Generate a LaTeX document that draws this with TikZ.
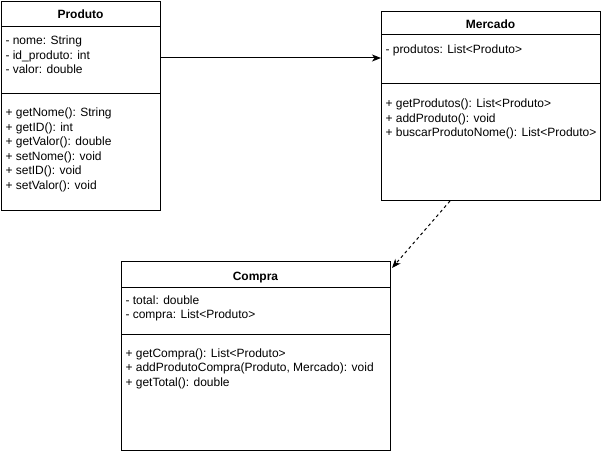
\documentclass[tikz,border=0pt]{standalone}
\usepackage{fontspec}
\setmainfont{Liberation Sans}
\usetikzlibrary{arrows.meta,calc}
\begin{document}
\begin{tikzpicture}[x=1pt,y=-1pt,line width=1pt,
  umlbox/.style={draw=black,fill=white,rectangle,inner sep=0pt,anchor=north west},
  txt/.style={anchor=base west,inner sep=0pt,font=\fontsize{12}{14}\selectfont},
  ttl/.style={anchor=base,inner sep=0pt,font=\fontsize{12}{14}\selectfont\bfseries},
  arr/.style={-{Stealth[length=9pt,width=7pt,inset=2.5pt]}}]
\useasboundingbox[fill=white] (0,0) rectangle (601,454);

% Produto
\node[umlbox,minimum width=159,minimum height=209] (produto) at (1,1) {};
\draw (produto.west |- 0,27) -- (produto.east |- 0,27);
\draw (produto.west |- 0,94) -- (produto.east |- 0,94);
\node[ttl] (pt) at (80.5,19) {Produto};
\node[txt] (p1) at (5,45) {- nome: String};
\node[txt] (p2) at (5,59.5) {- id\_produto: int};
\node[txt] (p3) at (5,74) {- valor: double};
\node[txt] (p4) at (5,117) {+ getNome(): String};
\node[txt] (p5) at (5,131.5) {+ getID(): int};
\node[txt] (p6) at (5,146) {+ getValor(): double};
\node[txt] (p7) at (5,160.5) {+ setNome(): void};
\node[txt] (p8) at (5,175) {+ setID(): void};
\node[txt] (p9) at (5,189.5) {+ setValor(): void};

% Mercado
\node[umlbox,minimum width=219,minimum height=189] (mercado) at (381,11) {};
\draw (mercado.west |- 0,35) -- (mercado.east |- 0,35);
\draw (mercado.west |- 0,83.5) -- (mercado.east |- 0,83.5);
\node[ttl] (mt) at (490.5,29) {Mercado};
\node[txt] (m1) at (385,54) {- produtos: List<Produto>};
\node[txt] (m2) at (385,108) {+ getProdutos(): List<Produto>};
\node[txt] (m3) at (385,122.5) {+ addProduto(): void};
\node[txt] (m4) at (385,137) {+ buscarProdutoNome(): List<Produto>};

% Compra
\node[umlbox,minimum width=269,minimum height=189] (compra) at (121,261) {};
\draw (compra.west |- 0,287) -- (compra.east |- 0,287);
\draw (compra.west |- 0,334) -- (compra.east |- 0,334);
\node[ttl] (ct) at (255.5,280) {Compra};
\node[txt] (c1) at (125,304) {- total: double};
\node[txt] (c2) at (125,318.5) {- compra: List<Produto>};
\node[txt] (c3) at (125,357) {+ getCompra(): List<Produto>};
\node[txt] (c4) at (125,371.5) {+ addProdutoCompra(Produto, Mercado): void};
\node[txt] (c5) at (125,386) {+ getTotal(): double};

% connectors
\coordinate (lvl) at (0,58);
\draw[arr] (produto.east |- lvl) -- (mercado.west |- lvl);
\draw[arr,dash pattern=on 3pt off 3pt] ($(mercado.south west)+(69,0)$) -- ($(compra.north east)+(1,7)$);
\end{tikzpicture}
\end{document}
